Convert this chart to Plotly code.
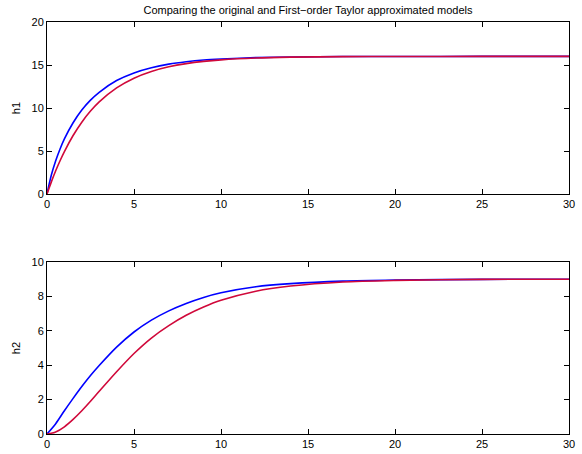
import plotly.graph_objects as go
from plotly.subplots import make_subplots

t = [0, 0.25, 0.5, 0.75, 1, 1.5, 2, 2.5, 3, 4, 5, 6, 7, 8, 9, 10, 12, 14, 17, 20, 25, 30]
h1_orig = [0, 2.2, 3.86, 5.24, 6.41, 8.29, 9.77, 10.92, 11.83, 13.19, 14.08, 14.68, 15.1, 15.38, 15.58, 15.7, 15.86, 15.93, 15.98, 15.99, 16, 16]
h1_taylor = [0, 1.41, 2.7, 3.87, 4.94, 6.8, 8.35, 9.64, 10.71, 12.34, 13.47, 14.25, 14.79, 15.16, 15.42, 15.6, 15.81, 15.91, 15.97, 15.99, 16, 16]

t2 = [0, 0.5, 1, 1.5, 2, 2.5, 3, 4, 5, 6, 7, 8, 9, 10, 12, 14, 17, 20, 25, 30]
h2_orig = [0, 0.6, 1.35, 2.07, 2.76, 3.4, 3.98, 5.05, 5.93, 6.62, 7.16, 7.59, 7.94, 8.21, 8.56, 8.74, 8.89, 8.95, 8.99, 9.0]
h2_taylor = [0, 0.12, 0.42, 0.85, 1.35, 1.9, 2.48, 3.62, 4.68, 5.58, 6.3, 6.9, 7.38, 7.77, 8.3, 8.6, 8.84, 8.93, 8.99, 9.0]

title_text = "Comparing the original and First\u2212order Taylor approximated models"
x_ticks = [0, 5, 10, 15, 20, 25, 30]
y1_ticks = [0, 5, 10, 15, 20]
y2_ticks = [0, 2, 4, 6, 8, 10]

W, H = 582, 454
ml, mr, mt, mb = 47, 13, 22, 20
ph = H - mt - mb
panel = 172 / ph

fig = make_subplots(rows=2, cols=1)

blue = "#0000ff"
red = "#d0083a"
ls = dict(width=1.6, shape="spline", smoothing=0.8)

fig.add_trace(go.Scatter(x=t, y=h1_orig, mode="lines", line=dict(color=blue, **ls), showlegend=False), row=1, col=1)
fig.add_trace(go.Scatter(x=t, y=h1_taylor, mode="lines", line=dict(color=red, **ls), showlegend=False), row=1, col=1)
fig.add_trace(go.Scatter(x=t2, y=h2_orig, mode="lines", line=dict(color=blue, **ls), showlegend=False), row=2, col=1)
fig.add_trace(go.Scatter(x=t2, y=h2_taylor, mode="lines", line=dict(color=red, **ls), showlegend=False), row=2, col=1)

font = dict(family="Liberation Sans, Arial", size=11, color="black")
axis_common = dict(showline=True, linecolor="black", linewidth=1, mirror="ticks",
                   ticks="inside", ticklen=5, tickcolor="black", tickwidth=1,
                   showgrid=False, zeroline=False, automargin=False,
                   tickfont=font)

fig.update_xaxes(range=[0, 30], tickvals=x_ticks, **axis_common)
fig.update_yaxes(**axis_common)
fig.update_layout(
    xaxis=dict(domain=[0, 1]),
    xaxis2=dict(domain=[0, 1]),
    yaxis=dict(domain=[1 - panel, 1], range=[0, 20], tickvals=y1_ticks,
               title=dict(text="h1", font=font, standoff=8)),
    yaxis2=dict(domain=[0, panel], range=[0, 10], tickvals=y2_ticks,
                title=dict(text="h2", font=font, standoff=8)),
    width=W, height=H,
    margin=dict(l=ml, r=mr, t=mt, b=mb, autoexpand=False),
    paper_bgcolor="white", plot_bgcolor="white",
    title=dict(text=title_text, x=0.5, xref="paper", y=1 - 10 / H, yanchor="middle",
               font=font, automargin=False),
)

fig.write_html("out.html")
